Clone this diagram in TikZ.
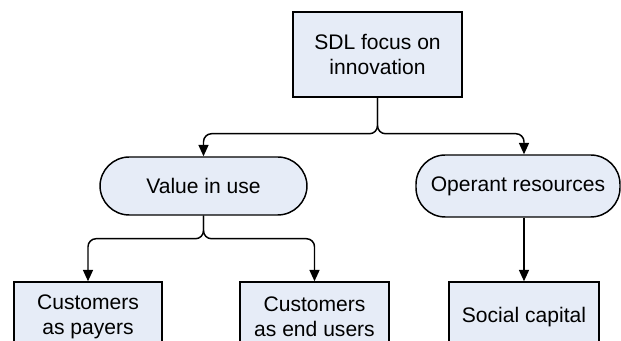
\documentclass[tikz,border=0pt]{standalone}
\usepackage{fontspec}
\setmainfont{Liberation Sans}
\usepackage{tikz}
\usetikzlibrary{arrows.meta}

\definecolor{boxfill}{RGB}{230,236,247}

\tikzset{
  box/.style={draw=black, line width=1.1pt, fill=boxfill, align=center,
    inner sep=0pt, font=\fontsize{15.8}{18.8}\selectfont},
  pill/.style={box, rounded corners=22pt},
  link/.style={line width=1.1pt, rounded corners=6pt,
    -{Triangle[length=8.5pt,width=7.5pt]}}
}

\begin{document}
\begin{tikzpicture}[x=0.75pt,y=0.75pt,yscale=-1,xscale=1]
\useasboundingbox (0,0) rectangle (621,341);

% Rectangle
\node (sdl) [box, minimum width=126.75pt, minimum height=63.75pt] at (377.5,54.5) {SDL focus on\\innovation};
% Rounded Rect
\node (vu) [pill, minimum width=155.25pt, minimum height=43.5pt] at (203.5,186) {Value in use};
% Rounded Rect
\node (or) [pill, minimum width=153pt, minimum height=46.5pt] at (518,186) {Operant resources};
% Rectangle
\node (cp) [box, minimum width=111pt, minimum height=52.5pt] at (88,317) {Customers\\as payers};
% Rectangle
\node (ceu) [box, minimum width=111.75pt, minimum height=52.5pt] at (314.5,317) {Customers\\as end users};
% Rectangle
\node (sc) [box, minimum width=112.5pt, minimum height=52.5pt] at (524,317) {Social capital};

% Connectors
\draw [link] (sdl.south) -- ++(0,36) -| (vu.north);
\draw [link] (sdl.south) -- ++(0,36) -| (or.north -| sc.north);
\draw [link] (vu.south) -- ++(0,23) -| (cp.north);
\draw [link] (vu.south) -- ++(0,23) -| (ceu.north);
\draw [link] (or.south -| sc.north) -- (sc.north);

\end{tikzpicture}
\end{document}
